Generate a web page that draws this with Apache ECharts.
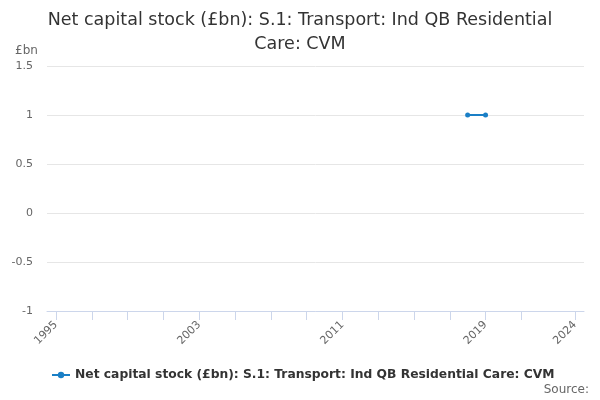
<!DOCTYPE html>
<html>
<head>
<meta charset="utf-8">
<script src="https://cdn.jsdelivr.net/npm/echarts@6/dist/echarts.min.js"></script>
<style>
html,body{margin:0;padding:0;background:#fff;}
#c{width:600px;height:400px;}
</style>
</head>
<body>
<div id="c"></div>
<script>
var titleText = 'Net capital stock (£bn): S.1: Transport: Ind QB Residential\nCare: CVM';
var seriesName = 'Net capital stock (£bn): S.1: Transport: Ind QB Residential Care: CVM';
var years = [2018, 2019];
var values = [1, 1];
var xTickYears = [1995,1997,1999,2001,2003,2005,2007,2009,2011,2013,2015,2017,2019,2021,2024];
var xLabelYears = [1995, 2003, 2011, 2019, 2024];
var yTicks = [-1, -0.5, 0, 0.5, 1, 1.5];

var font = 'DejaVu Sans, Verdana, sans-serif';
var chart = echarts.init(document.getElementById('c'), null, {renderer: 'canvas'});
chart.setOption({
  animation: false,
  textStyle: {fontFamily: font},
  title: {
    text: titleText,
    left: 'center',
    top: 3,
    textStyle: {fontFamily: font, fontSize: 17.5, fontWeight: 'normal', color: '#333', lineHeight: 24}
  },
  graphic: [
    {type: 'text', left: 15, top: 45, style: {text: '£bn', font: '12px ' + font, fill: '#666'}},
    {type: 'text', right: 11, top: 384, style: {text: 'Source:', font: '12px ' + font, fill: '#666'}}
  ],
  legend: {
    left: 46, top: 364,
    itemWidth: 18, itemHeight: 8, itemGap: 5,
    textStyle: {fontFamily: font, fontSize: 12.3, fontWeight: 'bold', color: '#333'},
    data: [seriesName]
  },
  grid: {left: 47, right: 16, top: 66, height: 245, containLabel: false},
  xAxis: {
    type: 'value',
    min: 1994.5, max: 2024.5,
    axisLine: {show: true, onZero: false, lineStyle: {color: '#ccd6eb'}},
    axisTick: {show: true, length: 9, lineStyle: {color: '#ccd6eb'}, customValues: xTickYears},
    axisLabel: {
      customValues: xLabelYears, rotate: 45, color: '#666', fontSize: 11, fontFamily: font, margin: 12,
      formatter: function (v) { return String(v); }
    },
    splitLine: {show: false}
  },
  yAxis: {
    type: 'value',
    min: yTicks[0], max: yTicks[yTicks.length - 1], interval: 0.5,
    axisLine: {show: false},
    axisTick: {show: false},
    axisLabel: {color: '#666', fontSize: 11, fontFamily: font, margin: 14},
    splitLine: {lineStyle: {color: '#e6e6e6'}}
  },
  series: [{
    name: seriesName,
    type: 'line',
    data: years.map(function (y, i) { return [y, values[i]]; }),
    color: '#1a7fc6',
    lineStyle: {width: 2},
    symbol: 'circle',
    symbolSize: 5,
    showSymbol: true
  }]
});
</script>
</body>
</html>
